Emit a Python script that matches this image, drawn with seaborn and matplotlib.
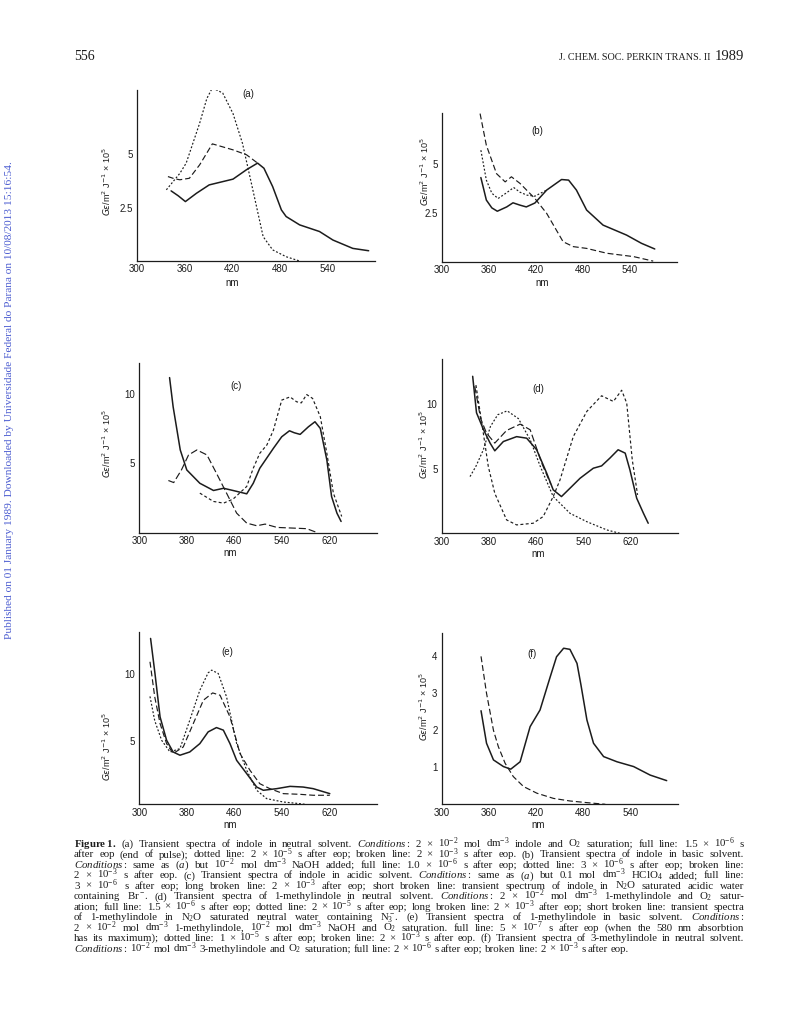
import numpy as np
import pandas as pd
import matplotlib
matplotlib.use('Agg')
import matplotlib.pyplot as plt
import seaborn as sns

# (a) indole, neutral solvent
a_full_nm = [343, 352, 361, 375, 391, 421, 438, 452, 460, 471, 482, 488, 505, 530, 547, 572, 592]
a_full = [3.28, 3.05, 2.78, 3.17, 3.56, 3.83, 4.27, 4.58, 4.34, 3.48, 2.39, 2.08, 1.69, 1.38, 0.98, 0.59, 0.48]
a_dot_nm = [337, 354, 362, 379, 388, 395, 408, 421, 433, 446, 459, 471, 488, 505]
a_dot = [3.33, 4.1, 4.58, 6.45, 7.6, 8.1, 7.86, 6.9, 5.5, 3.33, 1.14, 0.52, 0.2, 0.0]
a_brk_nm = [339, 347, 354, 366, 379, 395, 421, 438, 452]
a_brk = [3.95, 3.85, 3.8, 3.87, 4.5, 5.48, 5.2, 4.97, 4.58]

# (b) indole, basic solvent
b_full_nm = [350, 357, 364, 371, 383, 391, 400, 408, 419, 434, 453, 462, 472, 485, 506, 536, 555, 572]
b_full = [4.3, 3.15, 2.75, 2.58, 2.8, 3.01, 2.89, 2.8, 3.0, 3.66, 4.2, 4.17, 3.66, 2.64, 1.87, 1.36, 0.94, 0.65]
b_dot_nm = [350, 357, 364, 372, 382, 392, 400, 409, 419, 434]
b_dot = [5.7, 4.17, 3.5, 3.23, 3.5, 3.79, 3.55, 3.4, 3.35, 3.66]
b_brk_nm = [349, 357, 370, 381, 389, 400, 419, 434, 455, 468, 485, 511, 545, 570]
b_brk = [7.57, 5.95, 4.5, 4.08, 4.34, 4.0, 3.23, 2.47, 1.02, 0.77, 0.68, 0.43, 0.26, 0.03]

# (c) indole, acidic solvent
c_full_nm = [351, 357, 369, 380, 402, 425, 442, 458, 481, 492, 503, 526, 540, 553, 561, 571, 585, 596, 605, 616, 624, 633, 640]
c_full = [11.17, 9.07, 5.96, 4.52, 3.56, 3.04, 3.2, 3.04, 2.8, 3.56, 4.64, 6.08, 6.91, 7.34, 7.2, 7.08, 7.63, 7.99, 7.51, 5.24, 2.6, 1.41, 0.81]
c_long_nm = [349, 358, 371, 383, 397, 414, 430, 447, 464, 481, 498, 512, 532, 560, 582, 599]
c_long = [3.76, 3.61, 4.52, 5.6, 5.96, 5.6, 4.28, 2.85, 1.41, 0.69, 0.5, 0.62, 0.38, 0.33, 0.29, 0.02]
c_short_nm = [402, 425, 442, 458, 481, 492, 503, 515, 526, 540, 554, 565, 573, 582, 592, 605, 616, 627, 641]
c_short = [2.85, 2.25, 2.13, 2.42, 3.33, 4.64, 5.72, 6.32, 7.39, 9.55, 9.78, 9.43, 9.35, 9.95, 9.67, 8.35, 5.72, 2.85, 1.17]

# (d) 1-methylindole, neutral solvent
d_full_nm = [352.5, 359, 371, 382, 390, 404.5, 427, 444, 461, 478, 489, 503, 517.5, 534.5, 557, 571, 585, 599, 611, 619, 630.5, 642, 650]
d_full = [12.18, 9.35, 8.03, 7.0, 6.4, 7.12, 7.5, 7.38, 6.48, 4.66, 3.37, 2.85, 3.5, 4.27, 5.05, 5.23, 5.83, 6.48, 6.22, 4.92, 2.72, 1.55, 0.78]
d_dot_nm = [348, 358, 370.6, 382.6, 395, 411, 430, 450, 467, 489, 517.5, 546, 580, 602]
d_dot = [4.4, 5.2, 6.48, 8.29, 9.2, 9.5, 8.9, 7.25, 5.2, 2.85, 1.55, 0.9, 0.26, 0.0]
d_long_nm = [356, 366, 376, 390, 410, 433, 450, 469.5, 485]
d_long = [11.4, 8.9, 7.77, 7.0, 7.98, 8.47, 8.03, 5.44, 3.8]
d_short_nm = [358, 368, 379, 390, 410, 427, 455, 472, 489, 500.6, 523, 546, 571, 591, 605, 613.6, 623, 632]
d_short = [11.5, 8.55, 5.18, 3.1, 1.04, 0.65, 0.78, 1.3, 2.85, 4.15, 7.5, 9.46, 10.67, 10.23, 11.1, 10.1, 5.7, 2.98]

# (e) 1-methylindole, basic solvent
e_full_nm = [319, 326.4, 335, 346, 357, 368.5, 385, 402, 416, 430, 441.6, 452.8, 464, 481, 497.8, 509, 531.5, 554, 576, 593, 621]
e_full = [12.6, 10.0, 6.78, 5.05, 4.18, 3.94, 4.18, 4.8, 5.67, 5.99, 5.8, 4.8, 3.56, 2.57, 1.58, 1.34, 1.46, 1.63, 1.58, 1.46, 1.09]
e_dot_nm = [318, 326, 337.6, 351.7, 368.5, 385, 402, 416, 422, 433, 447, 464, 481, 497.8, 514.6, 542.7, 570, 579]
e_dot = [8.3, 6.5, 5.05, 4.18, 4.43, 6.53, 8.76, 10.05, 10.25, 10.0, 8.27, 4.8, 2.82, 1.34, 0.72, 0.47, 0.35, 0.3]
e_brk_nm = [318, 326, 335, 346, 357, 374, 391, 408, 423.6, 436, 452.8, 469.7, 486.5, 503, 520, 542.7, 570.8, 593, 621]
e_brk = [10.87, 8.27, 6.29, 4.8, 4.06, 4.55, 6.29, 8.02, 8.56, 8.39, 6.78, 4.06, 2.82, 1.83, 1.46, 1.09, 1.04, 0.97, 0.97]

# (f) 3-methylindole, neutral solvent
f_full_nm = [350, 357, 365.8, 378.5, 387.8, 399.7, 412.4, 425, 438, 446, 455, 463, 472, 477, 484.6, 493, 505.8, 522.8, 544, 565, 586]
f_full = [2.53, 1.65, 1.2, 1.02, 0.95, 1.15, 2.1, 2.55, 3.45, 3.99, 4.22, 4.19, 3.81, 3.23, 2.28, 1.65, 1.29, 1.15, 1.02, 0.79, 0.64]
f_brk_nm = [350, 357, 365.8, 372, 380.6, 391, 404, 421, 442, 463, 484.6, 508]
f_brk = [4.0, 3.0, 2.0, 1.56, 1.11, 0.75, 0.48, 0.3, 0.16, 0.09, 0.045, 0.0]

caption = [
    r"$\mathbf{Figure\;1.}$ (a) Transient spectra of indole in neutral solvent. $\mathit{Conditions:}$ 2 × 10$^{-2}$ mol dm$^{-3}$ indole and O$_2$ saturation; full line: 1.5 × 10$^{-6}$ s",
    r"after eop (end of pulse); dotted line: 2 × 10$^{-5}$ s after eop; broken line: 2 × 10$^{-3}$ s after eop. (b) Transient spectra of indole in basic solvent.",
    r"$\mathit{Conditions:}$ same as ($a$) but 10$^{-2}$ mol dm$^{-3}$ NaOH added; full line: 1.0 × 10$^{-6}$ s after eop; dotted line: 3 × 10$^{-6}$ s after eop; broken line:",
    r"2 × 10$^{-3}$ s after eop. (c) Transient spectra of indole in acidic solvent. $\mathit{Conditions:}$ same as ($a$) but 0.1 mol dm$^{-3}$ HClO$_4$ added; full line:",
    r"3 × 10$^{-6}$ s after eop; long broken line: 2 × 10$^{-3}$ after eop; short broken line: transient spectrum of indole in N$_2$O saturated acidic water",
    r"containing Br$^-$. (d) Transient spectra of 1-methylindole in neutral solvent. $\mathit{Conditions:}$ 2 × 10$^{-2}$ mol dm$^{-3}$ 1-methylindole and O$_2$ satur-",
    r"ation; full line: 1.5 × 10$^{-6}$ s after eop; dotted line: 2 × 10$^{-5}$ s after eop; long broken line: 2 × 10$^{-3}$ after eop; short broken line: transient spectra",
    r"of 1-methylindole in N$_2$O saturated neutral water containing N$_3^-$. (e) Transient spectra of 1-methylindole in basic solvent. $\mathit{Conditions:}$",
    r"2 × 10$^{-2}$ mol dm$^{-3}$ 1-methylindole, 10$^{-2}$ mol dm$^{-3}$ NaOH and O$_2$ saturation. full line: 5 × 10$^{-7}$ s after eop (when the 580 nm absorbtion",
    r"has its maximum); dotted line: 1 × 10$^{-5}$ s after eop; broken line: 2 × 10$^{-3}$ s after eop. (f) Transient spectra of 3-methylindole in neutral solvent.",
    r"$\mathit{Conditions:}$ 10$^{-2}$ mol dm$^{-3}$ 3-methylindole and O$_2$ saturation; full line: 2 × 10$^{-6}$ s after eop; broken line: 2 × 10$^{-3}$ s after eop.",
]

sns.set_style('white')
plt.rcParams['font.family'] = ['Liberation Sans', 'DejaVu Sans']
plt.rcParams['mathtext.fontset'] = 'custom'
plt.rcParams['mathtext.rm'] = 'Liberation Serif'
plt.rcParams['mathtext.it'] = 'Liberation Serif:italic'
plt.rcParams['mathtext.bf'] = 'Liberation Serif:bold'

W, H = 792, 1032
fig = plt.figure(figsize=(W / 100, H / 100), dpi=100)
ink = '#1c1c1c'
DASH = {'full': '', 'dotted': (1.6, 1.6), 'broken': (5, 2.5), 'long': (6, 2.5), 'short': (2.5, 2)}
WIDTH = {'full': 1.1, 'dotted': 0.85, 'broken': 0.85, 'long': 0.85, 'short': 0.85}


def fx(x):
    return x / W


def fy(y):
    return 1 - y / H


def panel(rect, curves, xmax, xstep, ylim, yticks, ylabels):
    x0, y0, x1, y1 = rect
    ax = fig.add_axes([fx(x0), fy(y1), (x1 - x0) / W, (y1 - y0) / H])
    df = pd.concat([pd.DataFrame({'nm': nm, 'val': v, 'kind': k}) for nm, v, k in curves])
    sns.lineplot(data=df, x='nm', y='val', style='kind', size='kind', dashes=DASH, sizes=WIDTH,
                 color=ink, estimator=None, sort=False, legend=False, ax=ax)
    ax.set_xlim(300, xmax)
    ax.set_ylim(*ylim)
    ticks = np.arange(300, xmax + 1, xstep)
    ax.set_xticks(ticks, [str(t) if (t - 300) % (2 * xstep) == 0 and t < xmax else '' for t in ticks])
    ax.set_yticks(yticks, ylabels)
    ax.tick_params(direction='in', length=4, width=0.8, labelsize=7, colors=ink, pad=3)
    ax.tick_params(axis='x', pad=2.5)
    for s in ['top', 'right']:
        ax.spines[s].set_visible(False)
    for s in ['left', 'bottom']:
        ax.spines[s].set_linewidth(0.9)
        ax.spines[s].set_color(ink)
    ax.set_xlabel('')
    ax.set_ylabel('')
    ax.patch.set_alpha(0)
    return ax


panel((137, 90, 375, 261), [(a_full_nm, a_full, 'full'), (a_dot_nm, a_dot, 'dotted'), (a_brk_nm, a_brk, 'broken')],
      600, 30, (0, 8.0), [2.5, 5], ['2.5', '5'])
panel((441.7, 113, 676.7, 261.7), [(b_full_nm, b_full, 'full'), (b_dot_nm, b_dot, 'dotted'), (b_brk_nm, b_brk, 'broken')],
      600, 30, (0, 7.6), [2.5, 5], ['2.5', '5'])
panel((139.3, 363.3, 376.7, 532.7), [(c_full_nm, c_full, 'full'), (c_long_nm, c_long, 'long'), (c_short_nm, c_short, 'short')],
      700, 40, (0, 12.2), [5, 10], ['5', '10'])
panel((441.7, 359.3, 677.7, 533.3), [(d_full_nm, d_full, 'full'), (d_dot_nm, d_dot, 'dotted'), (d_long_nm, d_long, 'long'),
                                     (d_short_nm, d_short, 'short')],
      700, 40, (0, 13.5), [5, 10], ['5', '10'])
panel((139.3, 631.7, 376.7, 804.3), [(e_full_nm, e_full, 'full'), (e_dot_nm, e_dot, 'dotted'), (e_brk_nm, e_brk, 'broken')],
      700, 40, (0.3, 13.1), [5, 10], ['5', '10'])
panel((441.7, 632.7, 677.7, 804.3), [(f_full_nm, f_full, 'full'), (f_brk_nm, f_brk, 'broken')],
      600, 30, (0, 4.64), [1, 2, 3, 4], ['1', '2', '3', '4'])

# panel letters, axis titles
for lab, x, y in [('(a)', 248, 94), ('(b)', 537, 131), ('(c)', 236, 386), ('(d)', 538, 389), ('(e)', 227, 652), ('(f)', 532, 654)]:
    fig.text(fx(x), fy(y), lab, fontsize=7, ha='center', va='center', color=ink)
for x, y in [(232, 283), (542, 283), (230, 553), (538, 554), (230, 825), (538, 825)]:
    fig.text(fx(x), fy(y), 'nm', fontsize=7, ha='center', va='center', color=ink)
ylab = r'$G\epsilon$/m$^2$ J$^{-1}$ × 10$^5$'
for x, y in [(107, 182), (425, 172), (107, 444), (424, 445), (107, 747), (424, 707)]:
    fig.text(fx(x), fy(y), ylab, fontsize=6.5, rotation=90, ha='center', va='center', color=ink,
             math_fontfamily='dejavusans')

# page furniture
serif = ['Liberation Serif', 'DejaVu Serif']
renderer = fig.canvas.get_renderer()
fig.text(fx(74), fy(57), '556', fontsize=10, family=serif, va='center', color=ink)
yr = fig.text(fx(744), fy(57), '1989', fontsize=10.5, family=serif, ha='right', va='center', color=ink)
yr_w = yr.get_window_extent(renderer).width
fig.text(fx(744 - yr_w - 4), fy(58), 'J. CHEM. SOC. PERKIN TRANS. II', fontsize=7.3, family=serif, ha='right',
         va='center', color=ink)
fig.text(fx(10), fy(400), 'Published on 01 January 1989. Downloaded by Universidade Federal do Parana on 10/08/2013 15:16:54.',
         fontsize=8.2, family=serif, rotation=90, ha='center', va='center', color='#4a5bd0')

# justified caption
left, right = 74, 744
for i, line in enumerate(caption):
    y = 847 + 10.45 * i
    words = line.split(' ')
    objs = [fig.text(0, fy(y), w, fontsize=7.8, family=serif, va='baseline', color=ink) for w in words]
    widths = [o.get_window_extent(renderer).width for o in objs]
    if i == len(caption) - 1:
        gap = 2.7
    else:
        gap = (right - left - sum(widths)) / (len(words) - 1)
    x = left
    for o, w in zip(objs, widths):
        o.set_x(fx(x))
        x += w + gap

fig.savefig('out.png', dpi=100)
